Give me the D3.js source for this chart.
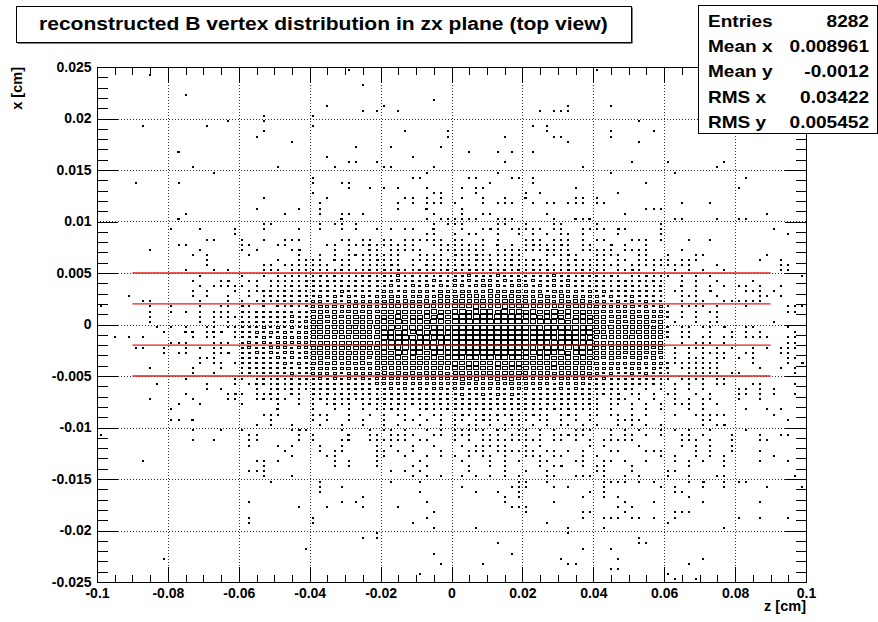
<!DOCTYPE html>
<html>
<head>
<meta charset="utf-8">
<script src="https://cdn.jsdelivr.net/npm/d3@7"></script>
<style>
  html, body { margin: 0; padding: 0; background: #fff; }
  svg { display: block; }
</style>
</head>
<body>
<svg id="chart" width="878" height="622"></svg>
<script>
// ---- histogram definition -------------------------------------------------
const zRange = [-0.1, 0.1];      // horizontal axis, z [cm]
const xRange = [-0.025, 0.025];  // vertical axis, x [cm]
const nBinsZ = 100;
const nBinsX = 100;

const zTicks = [-0.1, -0.08, -0.06, -0.04, -0.02, 0, 0.02, 0.04, 0.06, 0.08, 0.1];
const zTickLabels = ["-0.1", "-0.08", "-0.06", "-0.04", "-0.02", "0", "0.02", "0.04", "0.06", "0.08", "0.1"];
const xTicks = [-0.025, -0.02, -0.015, -0.01, -0.005, 0, 0.005, 0.01, 0.015, 0.02, 0.025];
const xTickLabels = ["-0.025", "-0.02", "-0.015", "-0.01", "-0.005", "0", "0.005", "0.01", "0.015", "0.02", "0.025"];

// horizontal selection cuts in x, drawn over z in [-0.09, 0.09]
const cutLevels = [0.005, 0.002, -0.002, -0.005];
const cutSpan = [-0.09, 0.09];

const titleText = "reconstructed B vertex distribution in zx plane (top view)";
const statNames = ["Entries", "Mean x", "Mean y", "RMS x", "RMS y"];
const statValues = ["8282", "0.008961", "-0.0012", "0.03422", "0.005452"];

// Bin contents, one string per x bin from the top (x = 0.025) downwards.
// Each string holds 100 z bins in blocks of ten; "." = empty, otherwise a base-36 count.
const countRows = [
".......... .......... .......... .....1.... .......... .......... .......... 1......... .......... ..........",
".......1.. .......... .......... .......... .......... .......... .......... .......... .......... ..........",
".......... .......... .......... .......... .......... .......... .......... .......... .......... ..........",
".......... .......... .......... .......1.. .......... .......... .......... .......... .......... ..........",
".......... .......... .......... .......... .......... .......... .......... .......... .......... ..........",
".......... ..1....... .......... .......... .......... .......... .......... .......... .......... ..........",
".......... .......... .......... .......... .......1.. .......... .......... .......... .......... ..........",
".......... .......... .......... ..1....... 1......... .......... ......1... ..1....... .......... ..........",
".......... .......... .......... .......1.1 ..1....... .......... ..1.111... .......... .......... ..........",
".......... .......... ...1...... 1......... .......... .......... .......... .......... .......... ..........",
".......... ........1. ...1...... .......... .......... .......... .......... ......1... .......... ..........",
"......1... .....1.... .......... 1......... .......... .......... .1.1...... .......... .......... ..........",
".......... .......... ...1...... .......... ...1.....1 .......... ...1...... ..1.....1. .......... ..........",
".......... .......... ..1....... .......... .........1 .......1.. ....11.... ..1....... .......... ..........",
".......... .......... .......1.. .......... .......... .......... ......1... ......1... .......... ..........",
".......... .......... .......... ......1... .1......1. .......... .......... .......... .......... ..........",
".......... .2........ .......... .......... .......... ..1...1.1. .1........ .......... .......... ..........",
".......... .......... .......... ..1....... ....1..... .......... .......... .......... .......... ..........",
".......... .......... .......... .....11..1 .......... .......1.. .......... .....1.... 1.......1. ..........",
".......... ...1...... .....1.... ...1...... 11.....1.. .......... ........1. .......... .......1.. ..........",
".......... ......1... .......... .......... ......1... ......1... .......... ..1....... .1........ ..........",
".......... .......... .......... 1......... ....11.... ..11....11 .1........ .......... .......... .1........",
".....1.... .1........ .......... 1...11.... .......... .....1.... .1........ .......1.. .......... ..........",
".......... .......... .......... .....1..1. 1.1...1... .1.11..... .......1.. .......... .......... 1.........",
".......... .......... .......... 1......... .......11. ...1...... 1.1....... ...1...... .......... ..........",
".......... .......... ...1...... ..1....... ...11.1.1. .1..1..1.. 2......11. 1......... .......... ..........",
".......... .......... .......... .1........ ..1.1.111. 1...1.111. .1.11.111. 11........ ..1...1... ..........",
".......... .......... ..1.....1. .1........ ..1...2... .1........ .......... .......111 .......... ..........",
".......... ..1....... ......1... .1..11.1.. .......1.. .1..11.... ...1...... ....1..... .......... ....1.....",
".......... .2........ .......... ....2..... ......1.11 1111..111. ....1..212 .......... .11....1.. 11........",
".......... .......... ...11..... .1.11.1... .......1.1 11....11.. 1...11.... 1........1 .......... ..........",
".......... 1...1....1 ...1....1. .1..1.1..1 .1.11..2.. .1..121.11 111.11..11 11.21....1 .......... .....1....",
".......... .........1 .......... .......... ......11.. 1.11..1..1 .1.1.11.1. ...1.....1 .......... .......1..",
".......... .....11... 1..1..111. ....11.11. 11.111111. 11..1.1... 111.111.1. 11...111.1 ...1..1... ..........",
".......... .11....... 11...11... ..11.11121 11111..111 11111.2.1. 1211121.11 ..2.1..1.. .......... ..........",
".......1.. ....1..... 1.1....12. ...1.1..21 .11111..11 11111.1111 1112111.11 111.1111.. ..1....... ..........",
".......... ...1.1.... .1......1. .1.1.12111 111..1111. 2112111111 ...11121.. 1111..11.. 1...11.... ....1.....",
".......... .....1.... .....1..11 11.211.112 111.111111 1112111121 1211.11211 11.11.1111 1.111..... ...1..1...",
".......... .....1.... ...11.1111 111.11.111 121.1.2111 1211121121 1121112111 1111.11111 1111...1.. ......11..",
".......... ..1...1.1. ...111.111 1111211121 2121121212 2122121212 1212112121 11.1121.1. .1.1.1..1. ......11..",
".......... ....1..... 1..1.11111 1212111221 2141213121 3243324233 3232423122 2121.11211 1.1.1.1... .........1",
".......... ...1...12. .11.111112 2122312122 3242332423 4353443534 3432434231 2212312121 ..1.1..1.. ..1.......",
".......... ....1.1111 1.1.111212 2321223232 3423434353 4534645354 4342534323 3212221312 ..2.1.1.1. 11.1..1...",
".......... ...1.1...1 .112312121 3232423323 4534454365 5645574656 5453645435 3423232312 .11.1.2... .111.1....",
"....1..... ...1.1..1. .1.1312322 3424343524 5645565476 6787587676 6576475654 4343242321 ..111..1.. ...11.1...",
"......11.. ....1...1. 1.12132322 4535345445 6757668587 8978a87988 7867586775 5434353423 ..1.11..11 1111......",
"1......1.. 1...1..11. 21.2.21213 5646457565 8797869887 9a9ba8ab9a 98a8796987 6545463534 1.1111.1.. .1.....111",
".......1.. 1.1.1.111. 2122322323 6757568676 9a89a89ba9 bcabdbacbb ab9ac9ba98 7656574645 2.1.1.11.. .......11.",
".......1.. ....1.1111 1123232423 7868679787 a9ba9ab9ca cdbcebcdcc bcabcabab9 7867576756 2.1.1..1.. ..........",
".......1.. ....1.1.1. 2123232434 7968789798 bacabbacba dcedcdecdd cbdcbcacbb 8768687767 .1..1.11.. .....1....",
"........1. 1.1..11.11 2324243434 8978798889 bcabcbabcb dedeedcede cdbcdcbcbc 8798787868 2.11.11.2. .11....1..",
".........1 ..22.122.1 3243434345 8a79899a88 cbcbacbcdb edeeddeede cdcdbcdcbc 9878879787 3.11..1..1 .1.1....1.",
"..1.1.1... ...1.11..1 3334344545 89a898a989 cbcdcbcbcd deeddeedde dcdcbcdcbb 8988798778 2.11.11.11 .1111..11.",
".......... 111...111. 3434345454 9898a99a98 bcdcbcdcbc eddeedeede cdcbdccdbc 8897878878 ..1.111.1. .......11.",
".....11..1 ..1.1.11.. 3433454344 8988989a89 bcbcbcbcdb ddedcdedde cbcdcbcbcb 8787878767 .1.111.1.1 ..1.1.111.",
".........1 .11...112. 3343435434 8978898897 bacbbcabcb dcddcdcdcd bcbcbcabcb 7787677686 .1.1.1111. .11...11..",
".......... ....111... 2323343534 7868787867 a9bab9abab cbcbccbcbc babbaabab9 7676567575 .1.111.11. 1.1....11.",
".......... ....1.11.1 2232334343 6767576768 9a89a98a9a babbaababb a9a9ba9a98 6565465454 21111111.. ..1....1.2",
".......1.. ...1...1.. 1223232323 5656465657 8787978988 9a9a99a9a9 9898a89887 5454354343 2.111111.. ...1..1.1.",
".......... ...1..1... 1212232423 4545354546 7676867776 8988798989 7878678776 4343243432 1..11111.1 1.......1.",
".......... ..1......1 1.12121323 3434243435 5656465656 6767567676 6565465654 3432232321 1.1111.11. ..........",
"........1. .....1...1 .122121221 3232323324 4544545454 5654565465 5454354543 2321222121 .1.1.1.11. ..11....1.",
".......... .....1.1.. ..1.121211 2323122323 3434343443 4534454345 4343243432 212121.1.1 .1.1.1.... 11.1.1....",
".......... ..1.....12 1.1121.21. 2121212121 3232323232 3423434343 3323232322 1212.11.1. 11..1.1... 11.1.1..1.",
".......1.. ...1....11 ..12121.1. 1212121212 2323222323 3232332323 2322322212 1.121.1.1. .1.1.11... 1..1......",
".......... .1..1..... 1....1..1. 1.1211.121 2121212121 2322232223 2212121212 1.11.1.1.1 .111.1.1.. ..........",
".......... 1......... .....2.... 1..1.1.1.1 1211.12112 2121221212 2121212111 1.1..1.1.1 ...1.1.... .1..1.1...",
".......... .......... ...111.... 111..1..1. 1.11.1.11. 1211212121 1211.121.1 1.11.1.1.. .1..11111. .....1....",
".......... 11.2...... ....1..... 1.1..1.1.. 1..11.1.1. 11.1211.11 1.11.1.1.1 ...1111... .....11... .......1..",
".......... .......... ..1.1..1.. .1..1..1.. 1.1..1..1. 1.11.1.111 .1.1.11.1. 1..1.1.1.1 .....1.12. ..........",
".......... ...1...1.. 1......121 ....1...1. 11.1..1.1. 11111.21.1 1.1.1..111 ..1.1.1..1 .1.1..1... .1........",
"1......... .......... .11.....1. 1....2..11 .1111..11. 111.111.11 1.1.11211. ..1.11.1.1 ..11.1...1 ...1..11..",
".......... ...1..1... .11.....1. 1...12..11 1111.11... 1.1.111111 111.11.1.1 .11111.... ..111.1..1 ...11.....",
".......... .......... .1...1.1.. .1..1....1 .1..1..1.. .1.11111.. 1.1......1 .1....1... ..1.1.1..1 ..........",
".......... .......... ......1... .1.11....1 1.1.1...1. ..111.1111 11.11.1.1. ..11...111 ....1.1..1 ...1......",
".......... .......... .......1.. ..11.....1 1..1..1.1. 1.1.11.1.. 111.11..1. 1........1 .1..1.1.1. .....1....",
"......1... .......... ..11.1.... ...1.1...1 .....1.... .1...1.1.1 ..11...11. .11.1..1.. .1.1.1..1. ...1...1..",
".......... .......... ...1...... ...1.1...1 ....1.1... ..1..1.1.. ..1.12..1. 11...1.... ...1....1. ..........",
".......... .......... .111...... .......... .1.1.1.... ..1....1.. 1..1...... 11...1.... 11........ ..........",
".......... .......... ...1...1.. .......... ....1.1.1. .1.1.1.1.1 ...11..111 .1..1.1... 1..1...11. ........1.",
".......... .......... ....1..... .1........ .1...1.... .........1 1..1...... .1111.1.1. ...1.2..1. 11........",
".......... .......... .......... .1..1..... .......... .1......11 1...1.1... .1.......1 .1...1..1. ....1....1",
".......... .......... .......... .1........ .....1.... ...1..1..1 .........1 .1........ .11....... ..........",
".......... .......... .......... .......1.. .......... .......1.1 ........1. .1.1...... ...1...... ..........",
".......... .......... .1........ ....1.1... ......1... .......1.. ....1..... ....1...1. .....1.... ...1......",
".......... .......... ........1. ..1....1.. ..1....... ........11 1......... ...1.1.... .......... ..........",
".......... .......... .......... .......... .......1.. .......... 1.......11 ....1..... .111...... ..........",
".......... .......... .1........ 1......... ......1... .......... ........1. .111.11.1. .1........ 1..1...1..",
".......... .......... .1........ 1......... ....1..... .......... ...1...... .......... 1......... ..........",
".......... .......... .......... .......... .......1.. ...1...... ......1... .1........ ........1. ..........",
".......... .......... .......... .........1 .......... .......... ......1... .......... .......... ..........",
".......... .......... .......... .......1.1 .......... .......... .......... ......1... .......... ..........",
".......... .......... .......... .......... .......... ......1... .......... ......11.. .......... ..........",
".......... .......... .........1 .......... .......... .......... ........1. ..1....... .......... ..........",
".......... .......... .......... .......... .......1.. ........1. .......... .......... .......... ..........",
".........1 .......... .......... .......... .......... .......... .....1.... ...1...... .....1.... ..........",
".......... .......... .......... .......... ........1. ....1..... ......11.. .......... ...1...... ..........",
".......... .......... .......... .......... .......... .......... .......... ..11...... .......... ..........",
".......... .......... .......... .......... .....1.... .......... .......... .......... 1......... ..........",
".......... .......... .......... .......... .......... .......... .......... .......... .1..1..... .........."
];

// ---- layout -----------------------------------------------------------------
const FONT = "'Liberation Sans', Arial, Helvetica, sans-serif";
const frame = { left: 97, right: 806, top: 67, bottom: 582 };

const svg = d3.select("#chart");

const zScale = d3.scaleLinear().domain(zRange).range([frame.left, frame.right]);
const xScale = d3.scaleLinear().domain(xRange).range([frame.bottom, frame.top]);

const dz = (zRange[1] - zRange[0]) / nBinsZ;
const dx = (xRange[1] - xRange[0]) / nBinsX;

// decode the bin table into cells
const cells = [];
countRows.forEach((row, r) => {
  row.split(" ").forEach((block, k) => {
    for (let i = 0; i < 10 && i < block.length; i++) {
      const ch = block[i];
      if (ch === ".") continue;
      const n = parseInt(ch, 36);
      if (!n) continue;
      const c = k * 10 + i;
      cells.push({ z: zRange[0] + (c + 0.5) * dz, x: xRange[1] - (r + 0.5) * dx, n });
    }
  });
});
const nMax = d3.max(cells, d => d.n);

// minor tick positions
const zMinor = d3.range(0, 41).map(i => zRange[0] + i * 0.005);
const xMinor = d3.range(0, 51).map(i => xRange[0] + i * 0.001);

// stretch a text element horizontally by a factor (wide pave lettering)
function widen(sel, factor) {
  sel.each(function () {
    const len = this.getComputedTextLength();
    d3.select(this).attr("textLength", len * factor).attr("lengthAdjust", "spacingAndGlyphs");
  });
}

// ---- grid ---------------------------------------------------------------
const grid = svg.append("g")
  .attr("stroke", "#333")
  .attr("stroke-width", 1)
  .attr("stroke-dasharray", "1,2")
  .attr("shape-rendering", "crispEdges");
grid.selectAll("line.gz")
  .data(zTicks.slice(1, -1))
  .join("line")
  .attr("x1", d => Math.round(zScale(d)) + 0.5)
  .attr("x2", d => Math.round(zScale(d)) + 0.5)
  .attr("y1", frame.top)
  .attr("y2", frame.bottom);
grid.selectAll("line.gx")
  .data(xTicks.slice(1, -1))
  .join("line")
  .attr("y1", d => Math.round(xScale(d)) + 0.5)
  .attr("y2", d => Math.round(xScale(d)) + 0.5)
  .attr("x1", frame.left)
  .attr("x2", frame.right);

// ---- boxes ------------------------------------------------------------------
const binW = zScale(dz) - zScale(0);
const binH = xScale(0) - xScale(dx);
svg.append("g")
  .attr("fill", "none")
  .attr("stroke", "#000")
  .attr("stroke-width", 1)
  .attr("shape-rendering", "crispEdges")
  .selectAll("rect")
  .data(cells)
  .join("rect")
  .each(function (d) {
    const s = Math.sqrt(d.n / nMax);
    const w = Math.max(2, Math.round(binW * s));
    const h = Math.max(2, Math.round(binH * s));
    const x0 = Math.round(zScale(d.z) - w / 2);
    const y0 = Math.round(xScale(d.x) - h / 2);
    d3.select(this)
      .attr("x", x0 + 0.5)
      .attr("y", y0 + 0.5)
      .attr("width", w - 1)
      .attr("height", h - 1);
  });

// ---- cut lines --------------------------------------------------------------
svg.append("g")
  .attr("stroke", "#e0201c")
  .attr("stroke-width", 1.4)
  .selectAll("line")
  .data(cutLevels)
  .join("line")
  .attr("x1", zScale(cutSpan[0]))
  .attr("x2", zScale(cutSpan[1]))
  .attr("y1", d => xScale(d))
  .attr("y2", d => xScale(d));

// ---- axes -------------------------------------------------------------------
function styleAxis(g) {
  g.attr("font-family", FONT).attr("font-size", 14).attr("font-weight", "bold");
  g.selectAll("line, path").attr("stroke", "#000").attr("shape-rendering", "crispEdges");
  g.selectAll("text").attr("fill", "#000");
}

// bottom
svg.append("g")
  .attr("transform", `translate(0,${frame.bottom})`)
  .call(d3.axisBottom(zScale).tickValues(zMinor).tickSizeInner(-7.5).tickSizeOuter(0).tickFormat(""))
  .call(styleAxis);
svg.append("g")
  .attr("transform", `translate(0,${frame.bottom})`)
  .call(d3.axisBottom(zScale).tickValues(zTicks).tickSizeInner(-15).tickSizeOuter(0)
    .tickPadding(6).tickFormat((d, i) => zTickLabels[i]))
  .call(styleAxis);

// top
svg.append("g")
  .attr("transform", `translate(0,${frame.top})`)
  .call(d3.axisTop(zScale).tickValues(zMinor).tickSizeInner(-7.5).tickSizeOuter(0).tickFormat(""))
  .call(styleAxis);
svg.append("g")
  .attr("transform", `translate(0,${frame.top})`)
  .call(d3.axisTop(zScale).tickValues(zTicks).tickSizeInner(-15).tickSizeOuter(0).tickFormat(""))
  .call(styleAxis);

// left
svg.append("g")
  .attr("transform", `translate(${frame.left},0)`)
  .call(d3.axisLeft(xScale).tickValues(xMinor).tickSizeInner(-10.5).tickSizeOuter(0).tickFormat(""))
  .call(styleAxis);
svg.append("g")
  .attr("transform", `translate(${frame.left},0)`)
  .call(d3.axisLeft(xScale).tickValues(xTicks).tickSizeInner(-21).tickSizeOuter(0)
    .tickPadding(5.5).tickFormat((d, i) => xTickLabels[i]))
  .call(styleAxis);

// right
svg.append("g")
  .attr("transform", `translate(${frame.right},0)`)
  .call(d3.axisRight(xScale).tickValues(xMinor).tickSizeInner(-10.5).tickSizeOuter(0).tickFormat(""))
  .call(styleAxis);
svg.append("g")
  .attr("transform", `translate(${frame.right},0)`)
  .call(d3.axisRight(xScale).tickValues(xTicks).tickSizeInner(-21).tickSizeOuter(0).tickFormat(""))
  .call(styleAxis);

// axis titles
svg.append("text")
  .attr("x", frame.right)
  .attr("y", 611)
  .attr("text-anchor", "end")
  .attr("font-family", FONT).attr("font-size", 14.5).attr("font-weight", "bold")
  .text("z [cm]");
svg.append("text")
  .attr("transform", `translate(22,${frame.top}) rotate(-90)`)
  .attr("text-anchor", "end")
  .attr("font-family", FONT).attr("font-size", 14.5).attr("font-weight", "bold")
  .text("x [cm]");

// ---- title pave -------------------------------------------------------------
const titleG = svg.append("g");
const shadow = titleG.append("rect").attr("fill", "#000");
const pave = titleG.append("rect")
  .attr("fill", "#fff").attr("stroke", "#000").attr("stroke-width", 1)
  .attr("shape-rendering", "crispEdges");
const titleLabel = titleG.append("text")
  .attr("x", 39).attr("y", 30)
  .attr("font-family", FONT).attr("font-size", 18).attr("font-weight", "bold")
  .text(titleText)
  .call(widen, 1.17);
const paveW = Math.round(39 + (+titleLabel.attr("textLength")) + 23 - 16);
shadow.attr("x", 17.5).attr("y", 7.5).attr("width", paveW).attr("height", 36);
pave.attr("x", 16.5).attr("y", 6.5).attr("width", paveW).attr("height", 36);

// ---- statistics box ---------------------------------------------------------
const stats = { left: 698, top: 5, right: 877, bottom: 133 };
const statsG = svg.append("g");
statsG.append("rect")
  .attr("x", stats.left + 0.5).attr("y", stats.top + 0.5)
  .attr("width", stats.right - stats.left).attr("height", stats.bottom - stats.top)
  .attr("fill", "#fff").attr("stroke", "#000").attr("stroke-width", 1)
  .attr("shape-rendering", "crispEdges");
const rowY = d3.scaleLinear().domain([0, statNames.length - 1]).range([26.5, 128]);
statsG.selectAll("text.name")
  .data(statNames)
  .join("text")
  .attr("class", "name")
  .attr("x", 708)
  .attr("y", (d, i) => rowY(i))
  .attr("font-family", FONT).attr("font-size", 16.3).attr("font-weight", "bold")
  .text(d => d)
  .call(widen, 1.17);
statsG.selectAll("text.value")
  .data(statValues)
  .join("text")
  .attr("class", "value")
  .attr("x", 869)
  .attr("y", (d, i) => rowY(i))
  .attr("text-anchor", "end")
  .attr("font-family", FONT).attr("font-size", 16.3).attr("font-weight", "bold")
  .text(d => d)
  .call(widen, 1.17);
</script>
</body>
</html>
